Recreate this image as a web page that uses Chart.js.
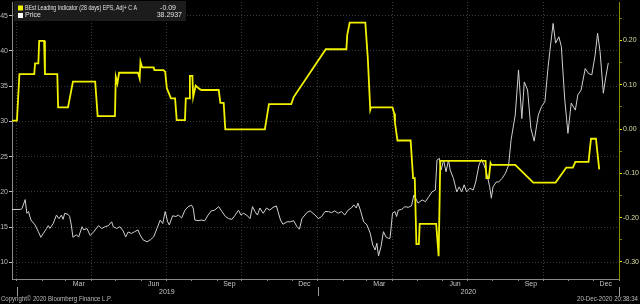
<!DOCTYPE html>
<html>
<head>
<meta charset="utf-8">
<script src="https://cdn.jsdelivr.net/npm/chart.js@4.4.0/dist/chart.umd.min.js"></script>
<style>
  html, body { margin: 0; padding: 0; background: #000; }
  #wrap { width: 640px; height: 304px; }
</style>
</head>
<body>
<div id="wrap"><canvas id="chart" width="640" height="304"></canvas></div>
<script>
// x values are days counted from 1 Jan 2019
const epsDays = [-6, 0, 3, 21, 22, 26, 27, 33, 34, 49,
  50, 62, 68, 95, 98, 119, 120, 122, 124, 147,
  149, 150, 152, 166, 167, 178, 180, 182, 187, 192,
  194, 204, 205, 209, 210, 213, 214, 217, 222, 224,
  245, 247, 251, 253, 301, 306, 333, 336, 375, 400,
  401, 404, 423, 426, 429, 430, 456, 458, 459, 462,
  478, 481, 483, 485, 488, 489, 509, 512, 514, 569,
  570, 573, 575, 576, 605, 627, 654, 667, 675, 678,
  694, 697, 703, 707];
const epsValues = [0.019, 0.019, 0.124, 0.124, 0.148, 0.148, 0.199, 0.199, 0.124, 0.124,
  0.049, 0.049, 0.107, 0.107, 0.029, 0.029, 0.118, 0.103, 0.127, 0.127,
  0.114, 0.152, 0.139, 0.139, 0.133, 0.133, 0.129, 0.092, 0.069, 0.069,
  0.020, 0.020, 0.069, 0.069, 0.120, 0.120, 0.072, 0.098, 0.090, 0.088,
  0.088, 0.059, 0.059, -0.001, -0.001, 0.056, 0.056, 0.072, 0.180, 0.180,
  0.212, 0.240, 0.240, 0.160, 0.043, 0.049, 0.049, 0.035, 0.014, -0.026,
  -0.026, -0.111, -0.111, -0.260, -0.260, -0.214, -0.214, -0.287, -0.072, -0.072,
  -0.111, -0.111, -0.077, -0.081, -0.081, -0.121, -0.121, -0.087, -0.087, -0.074,
  -0.074, -0.022, -0.022, -0.091];

const priceDays = [-6, 4, 6, 10, 12, 14, 17, 22, 26, 29,
  32, 36, 38, 40, 44, 48, 51, 54, 56, 58,
  62, 64, 66, 68, 72, 75, 79, 81, 85, 89,
  93, 99, 103, 107, 111, 115, 117, 121, 125, 129,
  132, 135, 139, 143, 147, 149, 153, 158, 162, 166,
  170, 174, 177, 180, 183, 185, 189, 193, 196, 200,
  204, 208, 212, 214, 216, 220, 224, 228, 232, 236,
  240, 245, 249, 253, 257, 261, 265, 269, 272, 275,
  279, 283, 286, 289, 292, 295, 299, 303, 307, 311,
  315, 317, 320, 323, 328, 332, 336, 340, 343, 346,
  352, 356, 362, 366, 370, 374, 378, 382, 386, 390,
  394, 398, 402, 406, 409, 412, 414, 417, 421, 425,
  429, 432, 435, 437, 439, 442, 445, 448, 451, 453,
  456, 459, 461, 463, 467, 471, 475, 479, 482, 484,
  487, 492, 496, 500, 504, 508, 510, 513, 515, 518,
  521, 524, 526, 530, 534, 537, 540, 543, 546, 550,
  554, 557, 561, 564, 567, 570, 574, 576, 578, 582,
  585, 589, 593, 597, 600, 605, 609, 613, 616, 620,
  624, 628, 633, 637, 641, 645, 647, 651, 654, 658,
  661, 665, 669, 673, 678, 681, 685, 690, 694, 698,
  702, 705, 708, 712, 715, 718];
const priceValues = [17.5, 17.5, 17.6, 18.9, 16.95, 17.2, 16.0, 15.3, 14.35, 13.55,
  14.1, 14.8, 15.2, 14.8, 15.5, 16.7, 16.2, 16.7, 16.1, 16.95,
  16.8, 16.5, 15.3, 13.55, 13.9, 13.6, 15.05, 14.6, 14.8, 13.8,
  14.3, 15.2, 14.8, 15.05, 15.2, 15.75, 15.05, 14.8, 15.05, 14.45,
  13.6, 14.3, 14.1, 14.35, 14.6, 14.0, 13.2, 12.9, 13.2, 13.6,
  14.8, 16.0, 15.5, 17.2, 15.75, 15.3, 16.6, 16.5, 16.7, 16.3,
  17.4, 17.9, 18.1, 17.7, 16.0, 15.9, 16.0, 15.9, 16.7, 17.3,
  17.4, 17.9, 17.2, 16.5, 16.2, 16.1, 16.7, 17.4, 16.7, 16.95,
  16.7, 16.2, 17.9, 17.2, 16.7, 17.7, 16.95, 17.7, 17.4, 17.8,
  18.0, 17.2, 16.0, 15.4, 15.75, 15.75, 15.9, 15.05, 14.7, 16.2,
  17.05, 17.3, 16.7, 16.2, 16.5, 17.2, 17.2, 17.05, 17.3, 16.95,
  17.2, 16.7, 17.4, 17.7, 18.15, 17.7, 18.4, 17.4, 15.75, 15.3,
  14.1, 12.45, 11.75, 12.7, 10.9, 12.2, 14.35, 13.6, 13.4, 13.4,
  16.95, 17.2, 16.5, 17.4, 17.5, 17.9, 17.8, 18.0, 19.55, 19.1,
  18.4, 18.85, 18.6, 19.3, 20.0, 20.25, 24.5, 24.75, 23.1, 24.5,
  22.85, 24.5, 23.1, 21.9, 20.0, 20.7, 20.0, 21.0, 20.0, 20.5,
  20.25, 21.4, 23.8, 24.6, 23.8, 22.85, 20.7, 19.1, 20.7, 21.4,
  21.4, 21.9, 22.6, 23.8, 27.4, 30.9, 37.3, 30.4, 35.6, 34.45,
  29.0, 27.2, 30.9, 32.1, 32.8, 37.8, 39.9, 43.9, 41.1, 42.0,
  40.6, 33.3, 28.3, 32.6, 31.6, 33.75, 34.45, 37.5, 36.8, 36.6,
  39.4, 42.5, 39.9, 34.0, 36.3, 38.29];

// axis ticks / labels
const leftTicks = [10, 15, 20, 25, 30, 35, 40, 45];
const rightTicks = [-0.30, -0.20, -0.10, 0.00, 0.10, 0.20];
const rightMinorTicks = [-0.25, -0.15, -0.05, 0.05, 0.15, 0.25];
const monthStartDays = [0, 31, 59, 90, 120, 151, 181, 212, 243, 273, 304, 334,
  365, 396, 425, 456, 486, 517, 547, 578, 609, 639, 670, 700, 731];
const quarterDays = [0, 90, 181, 273, 365, 456, 547, 639, 731];
const monthLabels = ["Mar", "Jun", "Sep", "Dec", "Mar", "Jun", "Sep", "Dec"];
const monthLabelDays = [75, 166, 258, 349, 440, 532, 624, 715];
const yearLabels = ["2019", "2020"];
const yearLabelDays = [182, 548];
const yearStartDays = [0, 365, 731];

const legendNames = ["BEst Leading Indicator (28 days) EPS, Adj+ C A", "Price"];
const legendValues = ["-0.09", "38.2937"];

const FONT = "'Liberation Sans Narrow', 'Liberation Sans', Arial, sans-serif";
Chart.defaults.font.family = FONT;
Chart.defaults.font.size = 7;

const toPoints = (xs, ys) => xs.map((d, i) => ({ x: d, y: ys[i] }));

// no extra padding from the scales, keep the plot box fixed
function fixSize(prop, size) {
  return (s) => {
    s[prop] = size;
    s.paddingLeft = 0; s.paddingRight = 0; s.paddingTop = 0; s.paddingBottom = 0;
  };
}

// text around the plot: month / year labels, legend box, footer
const decorations = {
  id: "decorations",
  afterDraw(chart) {
    const ctx = chart.ctx;
    const x = chart.scales.x;
    ctx.save();
    ctx.font = "7px " + FONT;
    ctx.textBaseline = "middle";
    ctx.fillStyle = "#c4c4c4";
    ctx.textAlign = "center";
    monthLabelDays.forEach((d, i) => ctx.fillText(monthLabels[i], x.getPixelForValue(d), 284.5));
    yearLabelDays.forEach((d, i) => ctx.fillText(yearLabels[i], x.getPixelForValue(d), 292.5));

    ctx.strokeStyle = "#9a9a9a";
    ctx.lineWidth = 1;
    yearStartDays.forEach((d) => {
      const px = Math.round(x.getPixelForValue(d)) + 0.5;
      ctx.beginPath();
      ctx.moveTo(px, 287);
      ctx.lineTo(px, 296);
      ctx.stroke();
    });

    ctx.fillStyle = "#bdbdbd";
    ctx.textAlign = "left";
    ctx.fillText("Copyright\u00a9 2020 Bloomberg Finance L.P.", 1, 299.5, 111);
    ctx.textAlign = "right";
    ctx.fillText("20-Dec-2020 20:38:34", 638, 299.5, 61);

    // legend
    ctx.fillStyle = "#1c1c1c";
    ctx.fillRect(14, 1, 172, 20);
    const colors = ["#f2f200", "#ffffff"];
    const rows = [8, 15.5];
    const valueRight = [176, 182];
    rows.forEach((y, i) => {
      ctx.fillStyle = colors[i];
      ctx.fillRect(18, y - 2.5, 5, 5);
      ctx.fillStyle = "#e0e0e0";
      ctx.textAlign = "left";
      ctx.fillText(legendNames[i], 25, y, i === 0 ? 112 : 40);
      ctx.textAlign = "right";
      ctx.fillText(legendValues[i], valueRight[i], y);
    });
    ctx.restore();
  },
};

new Chart(document.getElementById("chart").getContext("2d"), {
  type: "line",
  data: {
    datasets: [
      {
        label: "BEst Leading Indicator (28 days) EPS, Adj+ C A",
        data: toPoints(epsDays, epsValues),
        yAxisID: "y1",
        borderColor: "#f2f200",
        borderWidth: 1.8,
        pointRadius: 0,
        tension: 0,
      },
      {
        label: "Price",
        data: toPoints(priceDays, priceValues),
        yAxisID: "y",
        borderColor: "#cfcfcf",
        borderWidth: 1,
        pointRadius: 0,
        tension: 0,
      },
    ],
  },
  options: {
    responsive: false,
    devicePixelRatio: 1,
    animation: false,
    layout: { padding: { top: 2, left: 0, right: 0, bottom: 0 } },
    plugins: { legend: { display: false }, tooltip: { enabled: false } },
    scales: {
      x: {
        type: "linear",
        min: -6,
        max: 731,
        afterBuildTicks: (s) => { s.ticks = monthStartDays.map((v) => ({ value: v })); },
        afterFit: fixSize("height", 25),
        ticks: { autoSkip: false, maxRotation: 0, padding: 0, callback: () => "" },
        grid: {
          color: (c) => (c.tick && quarterDays.includes(c.tick.value) ? "#3a3a3a" : "rgba(0,0,0,0)"),
          tickColor: "#8a8a8a",
          tickLength: 2,
        },
        border: { color: "#8a8a8a", dash: [1, 2] },
      },
      y: {
        position: "left",
        min: 7.63,
        max: 46.94,
        afterBuildTicks: (s) => { s.ticks = leftTicks.map((v) => ({ value: v })); },
        afterFit: fixSize("width", 12),
        ticks: { color: "#bdbdbd", padding: 1, font: { size: 7, lineHeight: 1 } },
        grid: { color: "#3a3a3a", tickColor: "#bdbdbd", tickLength: 3 },
        border: { color: "#8a8a8a", dash: [1, 2] },
      },
      y1: {
        position: "right",
        min: -0.3386,
        max: 0.2867,
        afterBuildTicks: (s) => {
          s.ticks = rightTicks.concat(rightMinorTicks).map((v) => ({ value: v }));
        },
        afterFit: fixSize("width", 21),
        ticks: {
          color: "#dcdca0",
          padding: 1,
          font: { size: 7, lineHeight: 1 },
          callback: (v) => (rightTicks.includes(v) ? v.toFixed(2) : ""),
        },
        grid: {
          drawOnChartArea: false,
          tickColor: (c) => (c.tick && rightTicks.includes(c.tick.value) ? "#e6e600" : "#7a7a00"),
          tickLength: 3,
        },
        border: { color: "#8c8c00" },
      },
    },
  },
  plugins: [decorations],
});
</script>
</body>
</html>
